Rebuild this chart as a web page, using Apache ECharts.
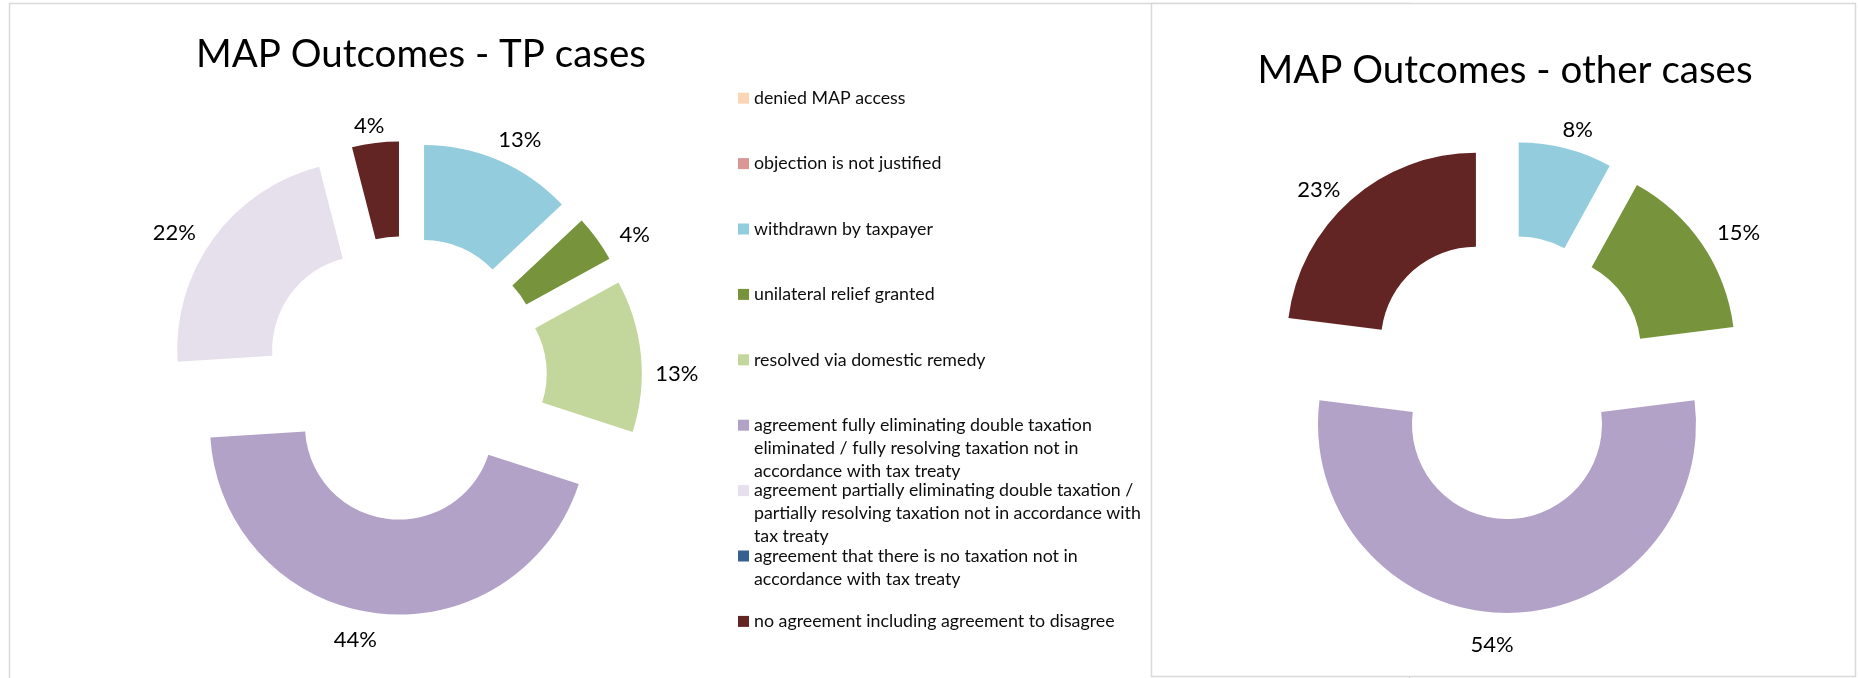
<!DOCTYPE html>
<html>
<head>
<meta charset="utf-8">
<script src="https://cdn.jsdelivr.net/npm/echarts@6/dist/echarts.min.js"></script>
<style>
  html, body { margin: 0; padding: 0; background: #ffffff; }
  #chart { width: 1858px; height: 678px; }
</style>
</head>
<body>
<div id="chart"></div>
<script>
// ---- data ----
const categories = [
  'denied MAP access',
  'objection is not justified',
  'withdrawn by taxpayer',
  'unilateral relief granted',
  'resolved via domestic remedy',
  'agreement fully eliminating double taxation eliminated / fully resolving taxation not in accordance with tax treaty',
  'agreement partially eliminating double taxation / partially resolving taxation not in accordance with tax treaty',
  'agreement that there is no taxation not in accordance with tax treaty',
  'no agreement including agreement to disagree'
];
const legendLabels = [
  'denied MAP access',
  'objection is not justified',
  'withdrawn by taxpayer',
  'unilateral relief granted',
  'resolved via domestic remedy',
  'agreement fully eliminating double taxation\neliminated / fully resolving taxation not in\naccordance with tax treaty',
  'agreement partially eliminating double taxation /\npartially resolving taxation not in accordance with\ntax treaty',
  'agreement that there is no taxation not in\naccordance with tax treaty',
  'no agreement including agreement to disagree'
];
const tpValues    = [0, 0, 13, 4, 13, 44, 22, 0, 4];
const otherValues = [0, 0, 8, 15, 0, 54, 0, 0, 23];
const colors = ['#FCD5B5', '#D99694', '#93CDDD', '#77933C', '#C3D69B', '#B3A2C7', '#E5E0EC', '#376092', '#632523'];
const titles = ['MAP Outcomes - TP cases', 'MAP Outcomes - other cases'];

// ---- layout / style ----
const FONT = 'Lato, "Open Sans", sans-serif';
const TP = { center: [405, 378], inner: 94, outer: 189, offset: 48 };
const OT = { center: [1507, 377], inner: 95, outer: 189, offset: 47 };
const LABEL_RING = 58;
const LABEL_DY = 2;
// manual label nudges (px) as the data labels were hand-placed in the original
const labelNudgeTP    = [[0,0],[0,0],[8,7],[12,13],[4,19],[-16,-7],[-13,11],[0,0],[-2,13]];
const labelNudgeOther = [[0,0],[0,0],[4,10],[10,5],[0,0],[-15,-2],[0,0],[0,0],[-11,12]];
const LEG = { left: 738, first: 98.2, step: 65.4, fontSize: 17.8, lineHeight: 23 };

function makeData(values, transparent) {
  return categories.map((name, i) => ({
    name: name,
    value: values[i],
    selected: true,
    itemStyle: { color: transparent ? 'rgba(0,0,0,0)' : colors[i] }
  }));
}

function ringSeries(values, g) {
  return {
    type: 'pie',
    center: g.center,
    radius: [g.inner, g.outer],
    startAngle: 90,
    clockwise: true,
    selectedMode: 'multiple',
    selectedOffset: g.offset,
    animation: false,
    silent: true,
    avoidLabelOverlap: false,
    label: { show: false },
    labelLine: { show: false },
    itemStyle: { borderWidth: 0 },
    select: { itemStyle: { borderWidth: 0 } },
    emphasis: { disabled: true },
    data: makeData(values, false)
  };
}

function labelSeries(values, g, nudges) {
  return {
    type: 'pie',
    center: g.center,
    radius: [g.outer, g.outer + LABEL_RING],
    startAngle: 90,
    clockwise: true,
    selectedMode: 'multiple',
    selectedOffset: g.offset,
    percentPrecision: 0,
    animation: false,
    silent: true,
    avoidLabelOverlap: false,
    label: {
      show: true,
      position: 'inside',
      fontFamily: FONT,
      fontSize: 22,
      color: '#000000',
      formatter: p => (p.value ? p.percent + '%' : '')
    },
    labelLayout: p => ({ dx: nudges[p.dataIndex][0], dy: nudges[p.dataIndex][1] + LABEL_DY }),
    labelLine: { show: false },
    itemStyle: { borderWidth: 0 },
    select: { itemStyle: { borderWidth: 0 }, label: { color: '#000000' } },
    emphasis: { disabled: true },
    data: makeData(values, true)
  };
}

const legends = categories.map((name, i) => {
  const lines = legendLabels[i].split('\n').length;
  // blank leading lines keep the first text line level with the colour key
  const text = '\n'.repeat(lines - 1) + legendLabels[i];
  return {
    data: [name],
    orient: 'vertical',
    left: LEG.left,
    top: LEG.first + LEG.step * i - (2 * lines - 1) * LEG.lineHeight / 2,
    padding: 0,
    itemWidth: 11,
    itemHeight: 11,
    icon: 'rect',
    selectedMode: false,
    formatter: () => text,
    textStyle: {
      fontFamily: FONT,
      fontSize: LEG.fontSize,
      color: '#0d0d0d',
      lineHeight: LEG.lineHeight
    }
  };
});

const chart = echarts.init(document.getElementById('chart'), null, { renderer: 'canvas' });
chart.setOption({
  backgroundColor: '#ffffff',
  animation: false,
  graphic: [
    { type: 'rect', z: 0, shape: { x: 9.5, y: 3.5, width: 1400, height: 700 },
      style: { fill: '#ffffff', stroke: '#D9D9D9', lineWidth: 1.5 } },
    { type: 'rect', z: 1, shape: { x: 1151.5, y: 3.5, width: 704, height: 673 },
      style: { fill: '#ffffff', stroke: '#D9D9D9', lineWidth: 1.5 } }
  ],
  title: [
    { text: titles[0], left: 421, top: 35, textAlign: 'center', padding: 0,
      textStyle: { fontFamily: FONT, fontSize: 38.5, fontWeight: 'normal', color: '#000000' } },
    { text: titles[1], left: 1505, top: 51, textAlign: 'center', padding: 0,
      textStyle: { fontFamily: FONT, fontSize: 38.5, fontWeight: 'normal', color: '#000000' } }
  ],
  legend: legends,
  series: [
    ringSeries(tpValues, TP),
    labelSeries(tpValues, TP, labelNudgeTP),
    ringSeries(otherValues, OT),
    labelSeries(otherValues, OT, labelNudgeOther)
  ]
});
</script>
</body>
</html>
